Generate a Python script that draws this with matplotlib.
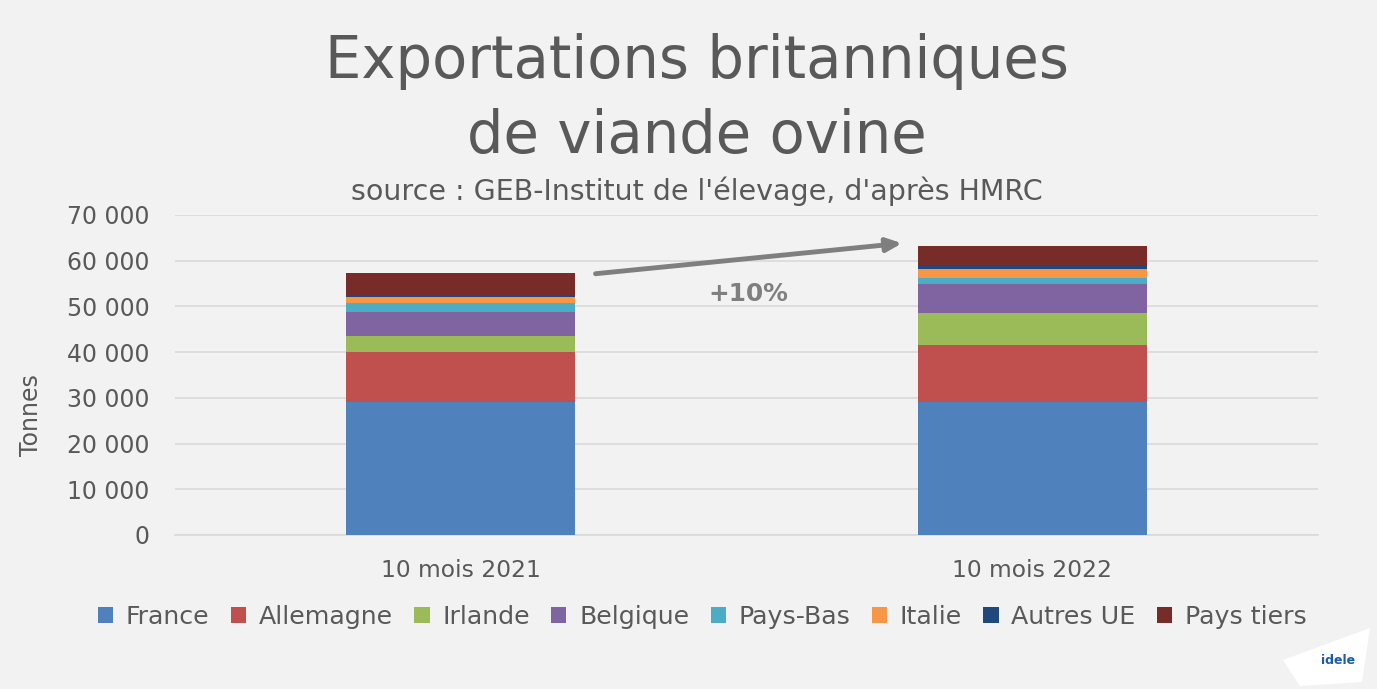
import matplotlib
matplotlib.use("Agg")
import matplotlib.pyplot as plt
from matplotlib.patches import Polygon

categories = ["10 mois 2021", "10 mois 2022"]
series = ["France", "Allemagne", "Irlande", "Belgique", "Pays-Bas", "Italie", "Autres UE", "Pays tiers"]
france = [29160, 29090]
allemagne = [10870, 12400]
irlande = [3570, 7000]
belgique = [5180, 6340]
pays_bas = [1970, 1390]
italie = [1250, 1970]
autres_ue = [350, 730]
pays_tiers = [4960, 4300]
values = [france, allemagne, irlande, belgique, pays_bas, italie, autres_ue, pays_tiers]
colors = ["#4F81BD", "#C0504D", "#9BBB59", "#8064A2", "#4BACC6", "#F79646", "#1F497D", "#772C2A"]
yticks = [0, 10000, 20000, 30000, 40000, 50000, 60000, 70000]
ytick_labels = ["0", "10 000", "20 000", "30 000", "40 000", "50 000", "60 000", "70 000"]

plt.rcParams['font.family'] = ['DejaVu Sans']
txt = "#595959"
bg = "#F2F2F2"

fig = plt.figure(figsize=(13.77, 6.89), dpi=100, facecolor=bg)
ax = fig.add_axes([175/1377, 1-535/689, (1318-175)/1377, 320/689], facecolor=bg)

x = list(range(len(categories)))
bottom = [0, 0]
handles = []
for name, vals, c in zip(series, values, colors):
    h = ax.bar(x, vals, width=0.40, bottom=bottom, color=c, label=name, zorder=3)
    handles.append(h)
    bottom = [b + v for b, v in zip(bottom, vals)]

ax.set_xlim(-0.5, 1.5)
ax.set_ylim(0, 70000)
ax.set_yticks(yticks)
ax.set_yticklabels(ytick_labels, fontsize=17, color=txt)
ax.set_xticks(x)
ax.set_xticklabels(categories, fontsize=16.8, color=txt)
ax.tick_params(axis='y', length=0, pad=18.5)
ax.tick_params(axis='x', length=0, pad=17)
ax.grid(axis='y', color="#D9D9D9", linewidth=1.2, zorder=0)
for s in ["top", "right", "left"]:
    ax.spines[s].set_visible(False)
ax.spines["bottom"].set_color("#D9D9D9")
ax.spines["bottom"].set_linewidth(1.2)
fig.text(31/1377, 1-415/689, "Tonnes", rotation=90, ha="center", va="center", fontsize=17, color=txt)

# arrow and annotation
ax.annotate("", xy=(0.777, 63875), xytext=(0.231, 57094),
            arrowprops=dict(arrowstyle="-|>,head_length=0.9,head_width=0.4", color="#7F7F7F", lw=3.5), zorder=5)
ax.text(0.503, 52700, "+10%", ha="center", va="center", fontsize=17.8, fontweight="bold", color="#7F7F7F")

fig.text(0.506, 1-62/689, "Exportations britanniques", ha="center", va="center", fontsize=41.5, color=txt)
fig.text(0.506, 1-137/689, "de viande ovine", ha="center", va="center", fontsize=41.5, color=txt)
fig.text(0.506, 1-191/689, "source : GEB-Institut de l'élevage, d'après HMRC", ha="center", va="center", fontsize=20.5, color=txt)

leg = fig.legend(handles=handles, labels=series, loc="center", bbox_to_anchor=(0.510, 1-617/689), ncol=8,
                 frameon=False, fontsize=18.2, handlelength=0.6, handleheight=0.6, columnspacing=0.85,
                 handletextpad=0.5, labelcolor=txt)

# logo blob
blob = Polygon([[1283/1377, 1-660/689], [1370/1377, 1-628/689], [1362/1377, 1-682/689], [1300/1377, 1-686/689]],
               closed=True, transform=fig.transFigure, facecolor="white", edgecolor="none")
fig.patches.append(blob)
fig.text(1338/1377, 1-660/689, "idele", ha="center", va="center", fontsize=9, fontweight="bold", color="#1F5AA6")

fig.savefig("out.png", dpi=100, facecolor=bg)
